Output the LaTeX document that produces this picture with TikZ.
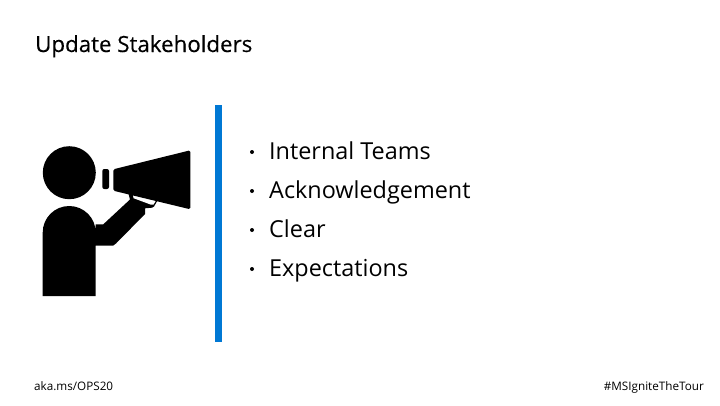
\documentclass[tikz,border=0pt]{standalone}
\usepackage{fontspec}
\setmainfont{Open Sans}
\newfontfamily\titlefont[FakeBold=0.35]{Open Sans}
\definecolor{barblue}{HTML}{0078D4}
\tikzset{
  titletext/.style={anchor=base west, inner sep=0pt, font=\titlefont\fontsize{22.3}{26}\selectfont},
  itemtext/.style={anchor=base west, inner sep=0pt, font=\fontsize{23.4}{28}\selectfont},
  dottext/.style={circle, fill=black, inner sep=0pt, minimum size=4pt},
  foottext/.style={inner sep=0pt, font=\fontsize{11.7}{14}\selectfont}
}
\begin{document}
\begin{tikzpicture}[x=1pt,y=-1pt]
\useasboundingbox (0,0) rectangle (720,405);
\node[titletext] (title) at (35,52){Update Stakeholders};
% person
\fill (69.3,172.7) circle (26.5);
\fill (42.7,296) -- (42.7,232.5) arc (180:360:26.5) -- (95.7,224.3) -- (103.3,224.3) -- (130,199.5)
  -- (128,192) -- (157.5,200.5) -- (154,206.5) -- (152,207.7) -- (145,208.3) -- (145,214)
  -- (116,243.5) -- (113,245.7) -- (95.7,245.7) -- (95.7,296) -- cycle;
\fill[white] (133,195) -- (156,200.5) -- (153.5,204.6) -- (150.5,204.5) -- (133.5,198.2) -- cycle;
% megaphone
\fill[rounded corners=1.5pt] (113.3,169.3) -- (190.3,150.3) -- (190.3,209.3) -- (113.3,190.7) -- cycle;
\fill[rounded corners=2pt] (102.3,169) rectangle (109,189);
% bar
\fill[barblue] (215,105) rectangle (222,342);
% items
\node[dottext] (dot1) at (252,152){};
\node[itemtext] (item1) at (269,159){Internal Teams};
\node[dottext] (dot2) at (252,191){};
\node[itemtext] (item2) at (269,198){Acknowledgement};
\node[dottext] (dot3) at (252,230){};
\node[itemtext] (item3) at (269,237){Clear};
\node[dottext] (dot4) at (252,269){};
\node[itemtext] (item4) at (269,276){Expectations};
% footer
\node[foottext, anchor=base west] (link) at (34,390){aka.ms/OPS20};
\node[foottext, anchor=base east] (tag) at (704,390){\#MSIgniteTheTour};
\end{tikzpicture}
\end{document}
